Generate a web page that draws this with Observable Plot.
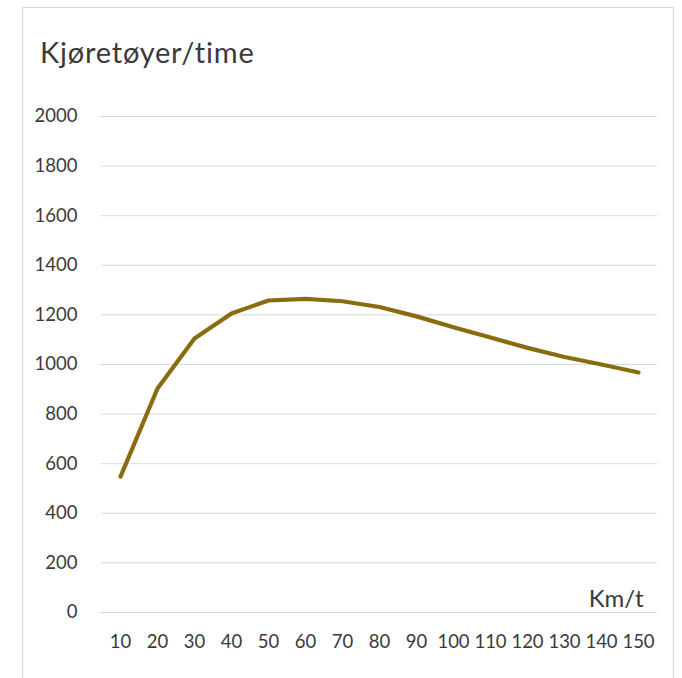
<!DOCTYPE html>
<html>
<head>
<meta charset="utf-8">
<script src="https://cdn.jsdelivr.net/npm/d3@7"></script>
<script src="https://cdn.jsdelivr.net/npm/@observablehq/plot@0.6"></script>
<style>
  html, body { margin: 0; padding: 0; background: #fff; }
  #wrap { position: relative; width: 682px; height: 678px; overflow: hidden; font-family: Lato, "Open Sans", sans-serif; }
  #frame { position: absolute; left: 22px; top: 7px; width: 652px; height: 700px; border: 1px solid #d9d9d9; box-sizing: border-box; }
  #title { position: absolute; left: 40px; top: 34px; font-size: 29px; letter-spacing: 0.8px; color: #3a3a3a; white-space: nowrap; }
  #plot { position: absolute; left: 0; top: 0; }
</style>
</head>
<body>
<div id="wrap">
  <div id="frame"></div>
  <div id="title">Kjøretøyer/time</div>
  <div id="plot"></div>
</div>
<script>
// Speed (km/t) and traffic flow (vehicles per hour)
const speeds = [10, 20, 30, 40, 50, 60, 70, 80, 90, 100, 110, 120, 130, 140, 150];
const flow = [548, 903, 1105, 1206, 1258, 1265, 1255, 1232, 1194, 1150, 1109, 1067, 1030, 1000, 968];
const yTicks = [0, 200, 400, 600, 800, 1000, 1200, 1400, 1600, 1800, 2000];
const xLabel = "Km/t";

const data = speeds.map((s, i) => ({speed: String(s), flow: flow[i]}));

const chart = Plot.plot({
  width: 682,
  height: 678,
  marginTop: 116,
  marginBottom: 66,
  marginLeft: 101,
  marginRight: 25,
  style: {fontFamily: "Lato, 'Open Sans', sans-serif", fontSize: "18px", color: "#3a3a3a", background: "transparent"},
  x: {type: "point", domain: speeds.map(String), padding: 0.5, label: null},
  y: {domain: [0, 2000], label: null},
  marks: [
    Plot.ruleY(yTicks, {stroke: "#d9d9d9", strokeWidth: 1}),
    Plot.axisY(yTicks, {tickSize: 0, tickPadding: 24, label: null, tickFormat: d => String(d), fontSize: 18.5, fill: "#3a3a3a"}),
    Plot.axisX({tickSize: 0, tickPadding: 22, label: null, fontSize: 18.5, fill: "#3a3a3a"}),
    Plot.line(data, {x: "speed", y: "flow", stroke: "#8a6c10", strokeWidth: 4.2, strokeLinejoin: "round", strokeLinecap: "round"}),
    Plot.text([xLabel], {frameAnchor: "bottom-right", textAnchor: "end", lineAnchor: "bottom", dx: -14, dy: -6, fontSize: 24, fill: "#3a3a3a"})
  ]
});
document.getElementById("plot").appendChild(chart);
</script>
</body>
</html>
